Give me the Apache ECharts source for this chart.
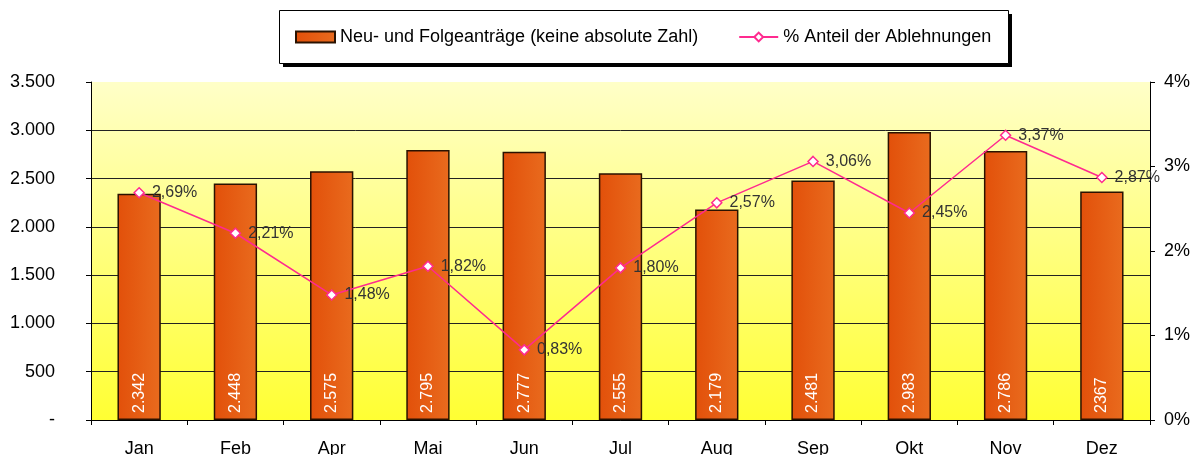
<!DOCTYPE html>
<html>
<head>
<meta charset="utf-8">
<script src="https://cdn.jsdelivr.net/npm/echarts@6/dist/echarts.min.js"></script>
<style>
  html, body { margin: 0; padding: 0; background: #fff; }
  #chart { width: 1195px; height: 455px; }
</style>
</head>
<body>
<div id="chart"></div>
<script>
// Monatliche Anträge und Ablehnungsquote
const months = ['Jan', 'Feb', 'Apr', 'Mai', 'Jun', 'Jul', 'Aug', 'Sep', 'Okt', 'Nov', 'Dez'];
const antraege = [2342, 2448, 2575, 2795, 2777, 2555, 2179, 2481, 2983, 2786, 2367];
const ablehnungProzent = [2.69, 2.21, 1.48, 1.82, 0.83, 1.80, 2.57, 3.06, 2.45, 3.37, 2.87];
// Monate, deren Wert ohne Tausenderpunkt beschriftet ist
const ohneTausenderpunkt = ['Dez'];

const seriesNames = ['Neu- und Folgeanträge (keine absolute Zahl)', '% Anteil der Ablehnungen'];

function deNumber(v) {
  return String(v).replace(/\B(?=(\d{3})+(?!\d))/g, '.');
}

const chart = echarts.init(document.getElementById('chart'), null, { renderer: 'canvas' });

const font = 'Arial, "Liberation Sans", sans-serif';

chart.setOption({
  animation: false,
  backgroundColor: '#ffffff',
  textStyle: { fontFamily: font },
  // Legendenrahmen mit Schlagschatten
  graphic: [
    {
      type: 'rect',
      left: 283, top: 14,
      shape: { width: 729, height: 53 },
      style: { fill: '#000000' },
      z: -1
    },
    {
      type: 'rect',
      left: 279, top: 10,
      shape: { width: 729, height: 53 },
      style: { fill: '#ffffff', stroke: '#000000', lineWidth: 1 },
      z: -1
    }
  ],
  legend: {
    left: 295,
    top: 28,
    padding: 0,
    itemWidth: 39,
    itemHeight: 11,
    itemGap: 40,
    textStyle: { fontSize: 18, color: '#000', fontFamily: font },
    data: [
      { name: seriesNames[0], icon: 'rect' },
      { name: seriesNames[1] }
    ]
  },
  grid: {
    left: 91,
    right: 45,
    top: 82,
    bottom: 35,
    outerBoundsMode: 'none',
    show: true,
    borderWidth: 0,
    backgroundColor: new echarts.graphic.LinearGradient(0, 0, 0, 1, [
      { offset: 0, color: '#FFFFC8' },
      { offset: 1, color: '#FFFF33' }
    ])
  },
  xAxis: {
    type: 'category',
    data: months,
    boundaryGap: true,
    axisLine: { show: true, lineStyle: { color: '#000', width: 1 } },
    axisTick: { show: true, length: 5, alignWithLabel: false, lineStyle: { color: '#000' } },
    axisLabel: { fontSize: 18, color: '#000', margin: 20, fontFamily: font }
  },
  yAxis: [
    {
      type: 'value',
      min: 0,
      max: 3500,
      interval: 500,
      axisLine: { show: true, lineStyle: { color: '#000', width: 1 } },
      axisTick: { show: true, length: 5, lineStyle: { color: '#000' } },
      axisLabel: {
        fontSize: 18, color: '#000', margin: 36, fontFamily: font,
        formatter: v => v === 0 ? '-' : deNumber(v)
      },
      splitLine: {
        show: true,
        lineStyle: {
          color: ['#000', '#222', '#222', '#222', '#222', '#222', '#222', 'rgba(0,0,0,0)'],
          width: 1
        }
      }
    },
    {
      type: 'value',
      min: 0,
      max: 4,
      interval: 1,
      position: 'right',
      axisLine: { show: true, lineStyle: { color: '#000', width: 1 } },
      axisTick: { show: true, length: 5, lineStyle: { color: '#000' } },
      axisLabel: {
        fontSize: 18, color: '#000', margin: 14, fontFamily: font,
        formatter: v => v + '%'
      },
      splitLine: { show: false }
    }
  ],
  series: [
    {
      name: seriesNames[0],
      type: 'bar',
      yAxisIndex: 0,
      data: antraege,
      barWidth: '45%',
      itemStyle: {
        color: new echarts.graphic.LinearGradient(0, 0, 1, 0, [
          { offset: 0, color: '#E2500A' },
          { offset: 1, color: '#E96B1E' }
        ]),
        borderColor: '#2a1200',
        borderWidth: 1.5
      },
      label: {
        show: true,
        position: 'insideBottom',
        rotate: 90,
        align: 'left',
        verticalAlign: 'middle',
        distance: 7,
        color: '#ffffff',
        fontSize: 16,
        fontFamily: font,
        formatter: p => ohneTausenderpunkt.includes(p.name) ? String(p.value) : deNumber(p.value)
      },
      z: 2
    },
    {
      name: seriesNames[1],
      type: 'line',
      yAxisIndex: 1,
      data: ablehnungProzent,
      symbol: 'diamond',
      symbolSize: 10,
      lineStyle: { color: '#FF2A8F', width: 1.5 },
      itemStyle: { color: '#ffffff', borderColor: '#FF2A8F', borderWidth: 1.5 },
      label: {
        show: true,
        position: 'right',
        distance: 7,
        color: '#333',
        fontSize: 16,
        fontFamily: font,
        formatter: p => p.value.toFixed(2).replace('.', ',') + '%'
      },
      z: 3
    }
  ]
});
</script>
</body>
</html>
